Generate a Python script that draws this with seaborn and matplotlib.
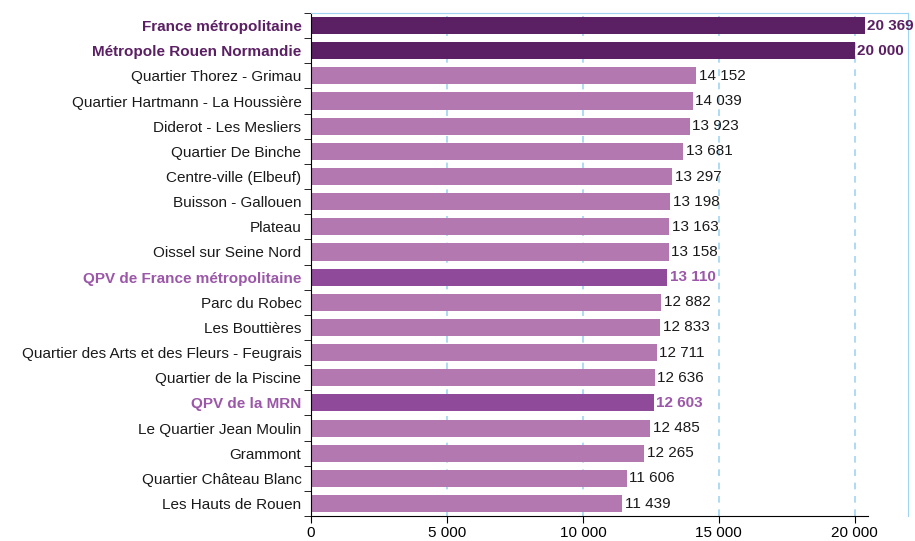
"""Niveau de vie médian par quartier - barres horizontales."""

import pandas as pd
import matplotlib.pyplot as plt
from matplotlib.ticker import FixedLocator, FuncFormatter
import seaborn as sns

labels = [
    "France métropolitaine",
    "Métropole Rouen Normandie",
    "Quartier Thorez - Grimau",
    "Quartier Hartmann - La Houssière",
    "Diderot - Les Mesliers",
    "Quartier De Binche",
    "Centre-ville (Elbeuf)",
    "Buisson - Gallouen",
    "Plateau",
    "Oissel sur Seine Nord",
    "QPV de France métropolitaine",
    "Parc du Robec",
    "Les Bouttières",
    "Quartier des Arts et des Fleurs - Feugrais",
    "Quartier de la Piscine",
    "QPV de la MRN",
    "Le Quartier Jean Moulin",
    "Grammont",
    "Quartier Château Blanc",
    "Les Hauts de Rouen",
]
values = [20369, 20000, 14152, 14039, 13923, 13681, 13297, 13198, 13163, 13158,
          13110, 12882, 12833, 12711, 12636, 12603, 12485, 12265, 11606, 11439]
groups = ["ref", "ref", "q", "q", "q", "q", "q", "q", "q", "q",
          "qpv", "q", "q", "q", "q", "qpv", "q", "q", "q", "q"]
x_ticks = [0, 5000, 10000, 15000, 20000]

bar_colors = {"ref": "#5b1f63", "qpv": "#8f4a99", "q": "#b478b0"}
text_colors = {"ref": "#5b1f63", "qpv": "#9b57a8", "q": "#1a1a1a"}

plt.rcParams['font.family'] = ['Liberation Sans', 'DejaVu Sans']

df = pd.DataFrame({"label": labels, "value": values, "group": groups})

fig, ax = plt.subplots(figsize=(9.15, 5.41), dpi=100)
fig.subplots_adjust(left=0.34, right=0.992, top=0.976, bottom=0.046)

grid_color = "#9fd4f2"
for t in x_ticks[1:]:
    ax.axvline(t, color=grid_color, lw=1.2, ls=(0, (4, 4)), zorder=0)

sns.barplot(data=df, y="label", x="value", hue="label",
            palette=[bar_colors[g] for g in groups], legend=False,
            width=0.68, orient="h", ax=ax, zorder=2, saturation=1)

ax.set_xlim(0, 21950)
ax.set_ylim(len(labels) - 0.5, -0.5)
ax.set_xlabel("")
ax.set_ylabel("")

fmt = lambda v: f"{int(v):,}".replace(",", " ")
ax.xaxis.set_major_locator(FixedLocator(x_ticks))
ax.xaxis.set_major_formatter(FuncFormatter(lambda v, p: fmt(v)))
ax.tick_params(axis="x", direction="out", length=5, labelsize=11, pad=2)

# category labels at bar centers, tick marks at the boundaries
ax.tick_params(axis="y", which="major", length=0, labelsize=11, pad=7)
ax.yaxis.set_minor_locator(FixedLocator([i - 0.5 for i in range(len(labels) + 1)]))
ax.tick_params(axis="y", which="minor", direction="out", length=5)

for tl, g in zip(ax.get_yticklabels(), groups):
    tl.set_color(text_colors[g])
    if g != "q":
        tl.set_fontweight("bold")

for i, (v, g) in enumerate(zip(values, groups)):
    ax.annotate(fmt(v), (v, i), xytext=(2, 0), textcoords="offset points",
                va="center", ha="left", fontsize=11, color=text_colors[g],
                fontweight="bold" if g != "q" else "normal", zorder=3)

for s in ["top", "right"]:
    ax.spines[s].set_color(grid_color)
ax.spines["bottom"].set_bounds(0, 20500)

fig.savefig("out.png", dpi=100)
